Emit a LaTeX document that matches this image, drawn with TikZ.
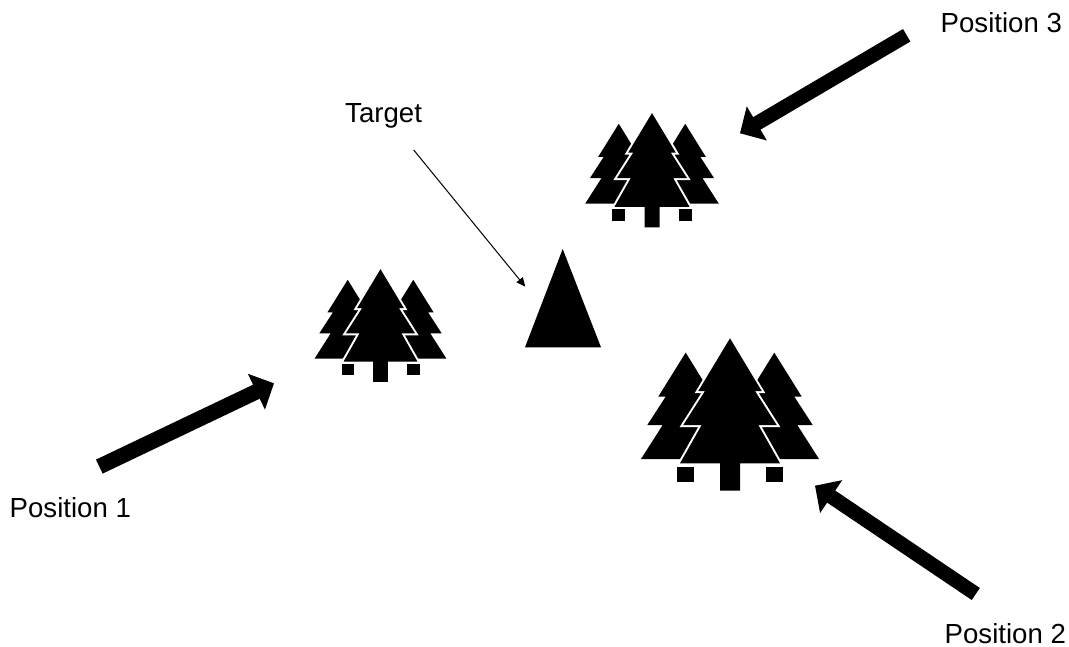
\documentclass[tikz,border=0pt]{standalone}
\usepackage{fontspec}
\setmainfont{Liberation Sans}
\usetikzlibrary{arrows.meta}
\tikzset{
  labeltext/.style={anchor=base west,inner sep=0pt,font=\fontsize{27.6}{27.6}\selectfont},
  bigarrow/.style={line width=#1,-{Triangle[length=19.5pt,width=38.5pt]}},
  thinarrow/.style={line width=1pt,-{Triangle[length=9pt,width=8pt]}},
  treeblack/.style={fill=black},
  treefront/.style={fill=black,preaction={draw=white,line width=#1}},
  pics/treegroup/.style={code={
    \fill[treeblack] (-44.3,-110.7) -- (-71.7,-66.7) -- (-64.3,-66.7) -- (-82.7,-38.3) -- (-67.3,-38.3) -- (-89,-4.3) -- (-20,-4.3) -- (-23.3,-76.7) -- cycle;
    \fill[treeblack] (44.3,-110.7) -- (71.7,-66.7) -- (64.3,-66.7) -- (82.7,-38.3) -- (67.3,-38.3) -- (89,-4.3) -- (20,-4.3) -- (23.3,-76.7) -- cycle;
    \fill[treeblack] (-52.7,3.3) rectangle (-35.7,18.3);
    \fill[treeblack] (52.7,3.3) rectangle (35.7,18.3);
    \path[treefront=#1] (0,-125) -- (-31.7,-72.3) -- (-25,-72.3) -- (-46.7,-38.3) -- (-28.3,-38.3) -- (-50,0) -- (-10,0) -- (-10,27.3) -- (10,27.3) -- (10,0) -- (50,0) -- (28.3,-38.3) -- (46.7,-38.3) -- (25,-72.3) -- (31.7,-72.3) -- cycle;
  }}
}
\begin{document}
\begin{tikzpicture}[x=1pt,y=-1pt]
\useasboundingbox (0,0) rectangle (1069,647);
\pic (treeone) at (380.5,361.7) [scale=0.74] {treegroup=4pt};
\pic (treetwo) at (730,463.3) {treegroup=4pt};
\pic (treethree) at (652,206.8) [scale=0.75] {treegroup=4pt};
\fill (562.7,249) -- (525,347.3) -- (601,347.3) -- cycle;
\node[labeltext] (targetlabel) at (345,122.5) {Target};
\node[labeltext] (posone) at (9.5,517) {Position 1};
\node[labeltext] (postwo) at (944.5,643) {Position 2};
\node[labeltext] (posthree) at (940.5,33) {Position 3};
\coordinate (tailone) at (99.3,466.6);
\coordinate (tipone) at (274,383.3);
\coordinate (tailtwo) at (975.8,594);
\coordinate (tiptwo) at (815,485.7);
\coordinate (tailthree) at (906.7,35.3);
\coordinate (tipthree) at (740,133.3);
\coordinate (tailtarget) at (413.7,150);
\coordinate (tiptarget) at (525.3,286.7);
\draw[bigarrow=15.5pt] (tailone) -- (tipone);
\draw[bigarrow=14.5pt] (tailtwo) -- (tiptwo);
\draw[bigarrow=14.5pt] (tailthree) -- (tipthree);
\draw[thinarrow] (tailtarget) -- (tiptarget);
\end{tikzpicture}
\end{document}
